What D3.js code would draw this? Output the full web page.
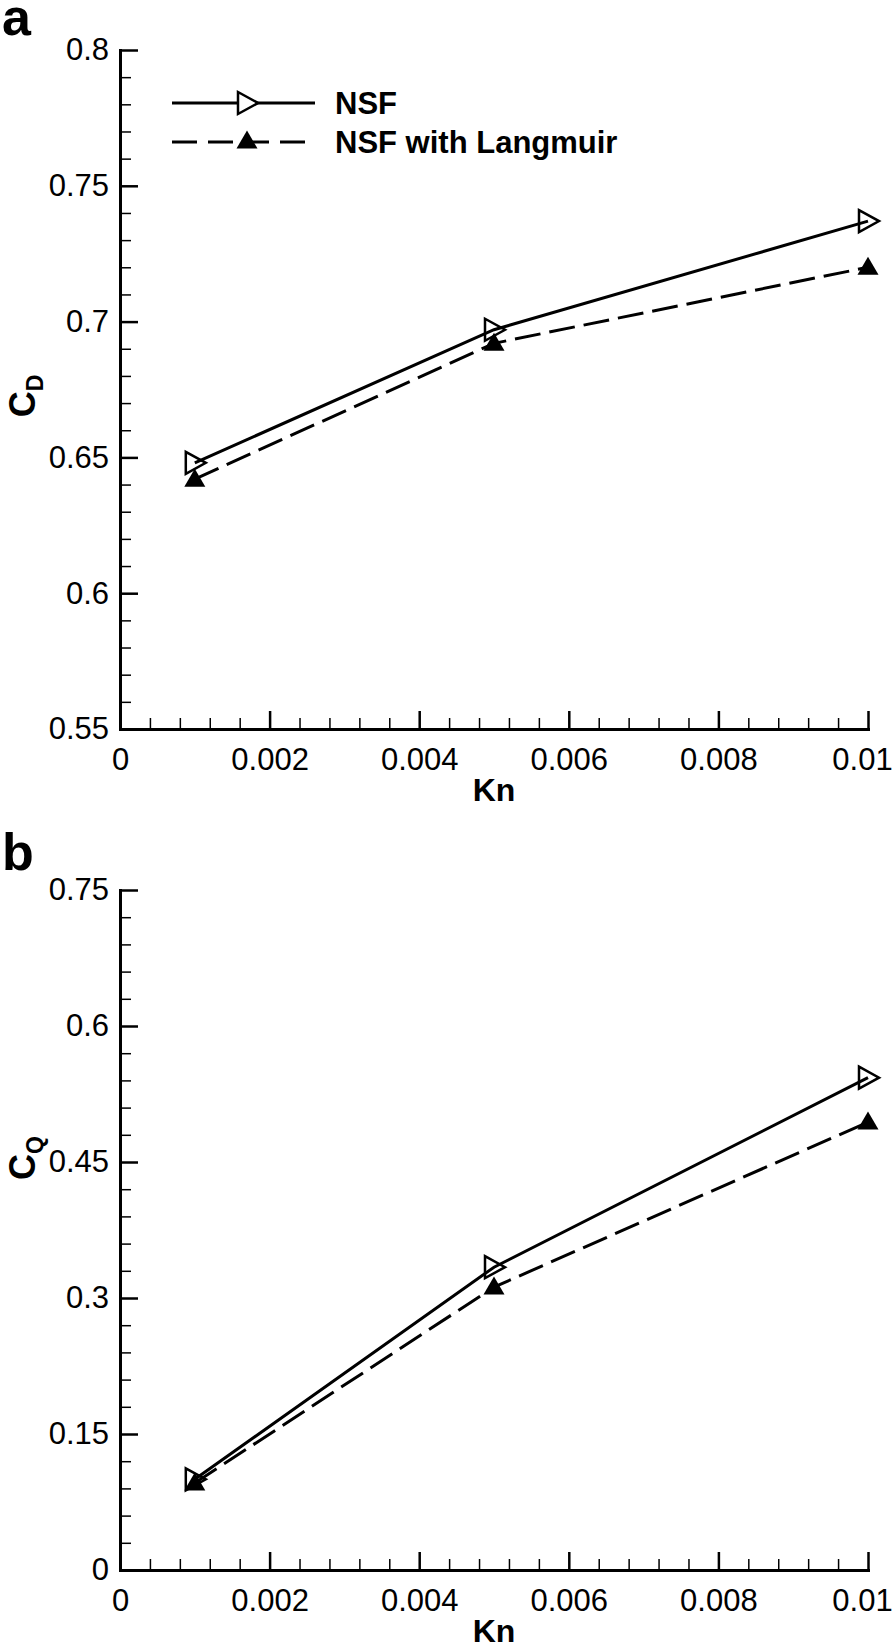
<!DOCTYPE html>
<html>
<head>
<meta charset="utf-8">
<script src="https://cdn.jsdelivr.net/npm/d3@7"></script>
<style>
  html, body { margin: 0; padding: 0; background: #fff; }
  svg { display: block; }
  text { font-family: "Liberation Sans", Arial, Helvetica, sans-serif; fill: #000; }
</style>
</head>
<body>
<svg id="chart" width="896" height="1649"></svg>
<script>
// ---- Data ----
const kn = [0.001, 0.005, 0.01];
const cdNSF = [0.648, 0.697, 0.737];
const cdLangmuir = [0.642, 0.692, 0.720];
const cqNSF = [0.100, 0.334, 0.543];
const cqLangmuir = [0.096, 0.312, 0.494];

const xTicks = [0, 0.002, 0.004, 0.006, 0.008, 0.01];
const xTickLabels = ["0", "0.002", "0.004", "0.006", "0.008", "0.01"];
const cdTicks = [0.55, 0.6, 0.65, 0.7, 0.75, 0.8];
const cdTickLabels = ["0.55", "0.6", "0.65", "0.7", "0.75", "0.8"];
const cqTicks = [0, 0.15, 0.3, 0.45, 0.6, 0.75];
const cqTickLabels = ["0", "0.15", "0.3", "0.45", "0.6", "0.75"];
const seriesNames = ["NSF", "NSF with Langmuir"];

// ---- Layout ----
const svg = d3.select("#chart");
const X0 = 120, X1 = 868;
const x = d3.scaleLinear().domain([0, 0.01]).range([X0, X1]);

const openTri = "M-9,-11 L11,0 L-9,11 Z";
const fillTri = "M0,-10.5 L10.5,7.5 L-10.5,7.5 Z";

function panel(cfg) {
  const y = d3.scaleLinear().domain(cfg.domain).range([cfg.bottom, cfg.top]);
  const g = svg.append("g");

  // minor ticks
  const xMinor = d3.range(0, 0.01 + 1e-9, 0.0004).filter(v => !xTicks.some(t => Math.abs(t - v) < 1e-9));
  const yMinor = d3.range(cfg.domain[0], cfg.domain[1] + 1e-9, cfg.minor).filter(v => !cfg.ticks.some(t => Math.abs(t - v) < 1e-9));

  g.append("g").attr("transform", `translate(0,${cfg.bottom})`)
    .call(d3.axisBottom(x).tickValues(xMinor).tickSize(-11).tickSizeOuter(0).tickFormat(""))
    .call(a => a.select(".domain").remove())
    .selectAll("line").attr("stroke", "#000").attr("stroke-width", 1.5);
  g.append("g").attr("transform", `translate(${X0},0)`)
    .call(d3.axisLeft(y).tickValues(yMinor).tickSize(-11).tickSizeOuter(0).tickFormat(""))
    .call(a => a.select(".domain").remove())
    .selectAll("line").attr("stroke", "#000").attr("stroke-width", 1.5);

  // major axes
  const xa = g.append("g").attr("transform", `translate(0,${cfg.bottom})`)
    .call(d3.axisBottom(x).tickValues(xTicks).tickSize(-18).tickSizeOuter(0).tickPadding(19)
      .tickFormat((d, i) => xTickLabels[i]));
  const ya = g.append("g").attr("transform", `translate(${X0},0)`)
    .call(d3.axisLeft(y).tickValues(cfg.ticks).tickSize(-18).tickSizeOuter(0).tickPadding(11)
      .tickFormat((d, i) => cfg.tickLabels[i]));
  [xa, ya].forEach(a => {
    a.select(".domain").attr("stroke", "#000").attr("stroke-width", 3).attr("stroke-linecap", "square");
    a.selectAll(".tick line").attr("stroke", "#000").attr("stroke-width", 2.5);
    a.selectAll("text").attr("font-size", 31).attr("font-family", "Liberation Sans, Arial, sans-serif").attr("fill", "#000");
  });
  // keep the last x label inside the page
  xa.selectAll(".tick text").filter(d => d === 0.01).attr("dx", -6);

  // lines
  const line = d3.line().x(d => x(d[0])).y(d => y(d[1]));
  g.append("path").datum(kn.map((k, i) => [k, cfg.s1[i]]))
    .attr("d", line).attr("fill", "none").attr("stroke", "#000").attr("stroke-width", 3);
  g.append("path").datum(kn.map((k, i) => [k, cfg.s2[i]]))
    .attr("d", line).attr("fill", "none").attr("stroke", "#000").attr("stroke-width", 3)
    .attr("stroke-dasharray", "26,9");

  g.selectAll(".m1").data(kn.map((k, i) => [k, cfg.s1[i]])).enter().append("path")
    .attr("d", openTri).attr("transform", d => `translate(${x(d[0])},${y(d[1])})`)
    .attr("fill", "none").attr("stroke", "#000").attr("stroke-width", 2.5);
  g.selectAll(".m2").data(kn.map((k, i) => [k, cfg.s2[i]])).enter().append("path")
    .attr("d", fillTri).attr("transform", d => `translate(${x(d[0])},${y(d[1])})`)
    .attr("fill", "#000");

  // axis titles
  g.append("text").attr("x", (X0 + X1) / 2).attr("y", cfg.bottom + 72)
    .attr("text-anchor", "middle").attr("font-size", 32).attr("font-weight", "bold").text("Kn");
  const yt = g.append("text").attr("transform", `translate(35,${cfg.ylabelY}) rotate(-90)`)
    .attr("text-anchor", "middle").attr("font-weight", "bold");
  yt.append("tspan").attr("font-size", 36).text("C");
  yt.append("tspan").attr("font-size", 23).attr("dy", 8).text(cfg.sub);

  // panel letter
  svg.append("text").attr("x", 2).attr("y", cfg.letterY).attr("font-size", 52)
    .attr("font-weight", "bold").text(cfg.letter);
  return g;
}

panel({ domain: [0.55, 0.8], top: 50, bottom: 729, ticks: cdTicks, tickLabels: cdTickLabels,
        minor: 0.01, s1: cdNSF, s2: cdLangmuir, sub: "D", ylabelY: 396, letter: "a", letterY: 35 });
panel({ domain: [0, 0.75], top: 890, bottom: 1570, ticks: cqTicks, tickLabels: cqTickLabels,
        minor: 0.03, s1: cqNSF, s2: cqLangmuir, sub: "Q", ylabelY: 1158, letter: "b", letterY: 870 });

// ---- Legend ----
const lg = svg.append("g");
const legY = [103, 142];
lg.append("line").attr("x1", 172).attr("x2", 315).attr("y1", legY[0]).attr("y2", legY[0])
  .attr("stroke", "#000").attr("stroke-width", 3);
lg.append("path").attr("d", openTri).attr("transform", `translate(247,${legY[0]})`)
  .attr("fill", "#fff").attr("stroke", "#000").attr("stroke-width", 2.5);
lg.append("line").attr("x1", 172).attr("x2", 315).attr("y1", legY[1]).attr("y2", legY[1])
  .attr("stroke", "#000").attr("stroke-width", 3).attr("stroke-dasharray", "25,11");
lg.append("path").attr("d", fillTri).attr("transform", `translate(247,${legY[1] - 1})`).attr("fill", "#000");
seriesNames.forEach((n, i) => {
  lg.append("text").attr("x", 335).attr("y", legY[i] + 11).attr("font-size", 31)
    .attr("font-weight", "bold").text(n);
});
</script>
</body>
</html>
